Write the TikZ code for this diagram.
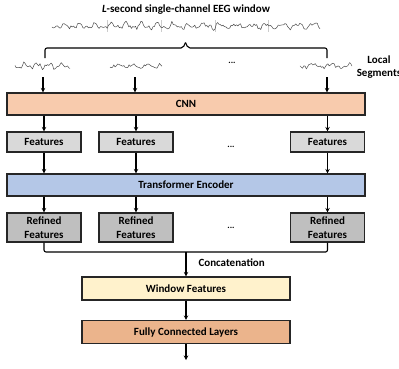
\documentclass[tikz,border=0pt]{standalone}
\usepackage{fontspec}
\setmainfont{Carlito}
\usetikzlibrary{arrows.meta}
\definecolor{cnnc}{HTML}{F8CBAD}
\definecolor{featc}{HTML}{D9D9D9}
\definecolor{tranc}{HTML}{B4C7E7}
\definecolor{refc}{HTML}{BFBFBF}
\definecolor{winc}{HTML}{FFF2CC}
\definecolor{fcc}{HTML}{EBB48C}
\definecolor{edgec}{HTML}{262626}
\tikzset{
  lbl/.style={font=\fontsize{11}{13.5}\selectfont\bfseries, text=black},
  wide/.style={draw=edgec, line width=1.1pt, lbl, minimum width=358pt, minimum height=22pt, inner sep=0pt},
  small/.style={draw=edgec, line width=1.1pt, lbl, minimum width=74pt, minimum height=20pt, inner sep=0pt, align=center},
  mid/.style={draw=edgec, line width=1.1pt, lbl, minimum width=208pt, minimum height=23pt, inner sep=0pt},
  arr/.style={line width=1.1pt, draw=black, -{Stealth[length=4.5pt,width=4.5pt]}},
  wave/.style={draw=black!70, line width=0.5pt, line join=round},
  dots/.style={lbl, font=\fontsize{9}{10}\selectfont\bfseries}
}
\begin{document}
\begin{tikzpicture}[x=1pt,y=-1pt]
\useasboundingbox (0,0) rectangle (399,368);
% title
\node[lbl] (title) at (186,10) {\textit{L}-second single-channel EEG window};
% long EEG window
\pgfmathsetseed{11}
\foreach \xx in {107,161,215,268} \draw[black!20, line width=0.4pt] (\xx,20) -- (\xx,32);
\draw[wave] plot[domain=0:268, samples=200] ({52+\x}, {26+2.0*sin(\x*23)+1.4*sin(\x*47+40)+1.6*rand});
% brace
\draw[line width=1.1pt, rounded corners=2pt] (45,58) -- (45,48) -- (183,48) -- (185.5,42.5);
\draw[line width=1.1pt, rounded corners=2pt] (327,58) -- (327,48) -- (188,48) -- (185.5,42.5);
% local segments
\pgfmathsetseed{23}
\draw[wave] plot[domain=0:55, samples=45] ({15+\x}, {66+1.8*sin(\x*29)+1.2*sin(\x*67+10)+1.4*rand});
\pgfmathsetseed{5}
\draw[wave] plot[domain=0:52, samples=42] ({110+\x}, {66+1.6*sin(\x*25+50)+1.0*sin(\x*71)+1.1*rand});
\pgfmathsetseed{17}
\draw[wave] plot[domain=0:52, samples=42] ({300+\x}, {66+1.8*sin(\x*19+20)+1.1*sin(\x*63)+1.2*rand});
\node[dots] (d0) at (232,63) {...};
\node[lbl, align=center] (loc) at (379,67) {Local\\Segments};
\coordinate (s1) at (43,77);
\coordinate (s2) at (135,77);
\coordinate (s3) at (327,77);
% CNN
\node[wide, fill=cnnc] (cnn) at (186,104) {CNN};
\draw[arr] (s1) -- (s1 |- cnn.north);
\draw[arr] (s2) -- (s2 |- cnn.north);
\draw[arr] (s3) -- (s3 |- cnn.north);
% features
\node[small, fill=featc] (f1) at (44,142) {Features};
\node[small, fill=featc] (f2) at (136,142) {Features};
\node[small, fill=featc] (f3) at (327.5,142) {Features};
\node[dots] (d1) at (231,147) {...};
\draw[arr] (f1 |- cnn.south) -- (f1.north);
\draw[arr] (f2 |- cnn.south) -- (f2.north);
\draw[arr] (f3 |- cnn.south) -- (f3.north);
% transformer
\node[wide, fill=tranc] (tr) at (186,185) {Transformer Encoder};
\draw[arr] (f1.south) -- (f1.south |- tr.north);
\draw[arr] (f2.south) -- (f2.south |- tr.north);
\draw[arr] (f3.south) -- (f3.south |- tr.north);
% refined features
\node[small, fill=refc, minimum height=29pt] (r1) at (44,227.5) {Refined\\Features};
\node[small, fill=refc, minimum height=29pt] (r2) at (136,227.5) {Refined\\Features};
\node[small, fill=refc, minimum height=29pt] (r3) at (327.5,227.5) {Refined\\Features};
\node[dots] (d2) at (231,228) {...};
\draw[arr] (r1 |- tr.south) -- (r1.north);
\draw[arr] (r2 |- tr.south) -- (r2.north);
\draw[arr] (r3 |- tr.south) -- (r3.north);
% concatenation
\coordinate (cj) at (186,252);
\draw[line width=1.1pt, rounded corners=2pt] (r1.south) -- (r1.south |- cj) -- (r3.south |- cj) -- (r3.south);
\node[mid, fill=winc] (win) at (186,288.5) {Window Features};
\draw[arr] (cj) -- (win.north);
\node[lbl, anchor=west] (cat) at (195,263) {Concatenation};
% fully connected
\node[mid, fill=fcc] (fc) at (186,332) {Fully Connected Layers};
\draw[arr] (win.south) -- (fc.north);
\coordinate (out) at (186,360);
\draw[arr] (fc.south) -- (out);
\end{tikzpicture}
\end{document}
